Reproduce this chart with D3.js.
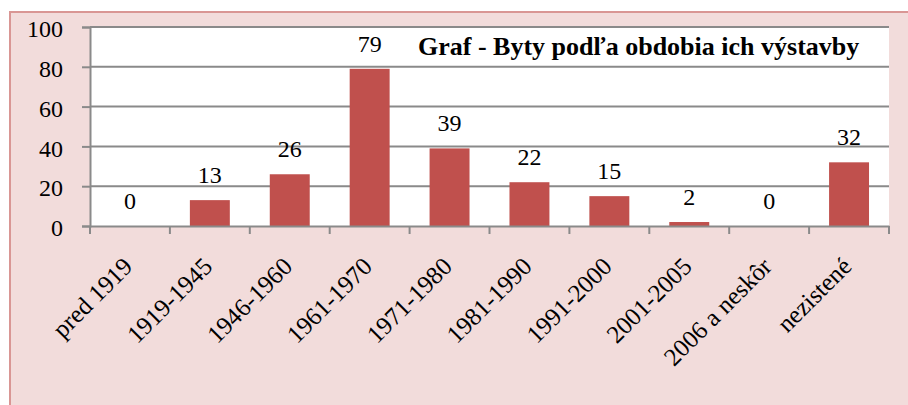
<!DOCTYPE html>
<html>
<head>
<meta charset="utf-8">
<script src="https://cdn.jsdelivr.net/npm/d3@7"></script>
<style>
  body { margin: 0; background: #fff; }
</style>
</head>
<body>
<svg width="908" height="405"></svg>
<script>
const categories = ["pred 1919", "1919-1945", "1946-1960", "1961-1970", "1971-1980",
  "1981-1990", "1991-2000", "2001-2005", "2006 a neskôr", "nezistené"]
const values = [0, 13, 26, 79, 39, 22, 15, 2, 0, 32]
const yTicks = [0, 20, 40, 60, 80, 100]
const title = "Graf - Byty podľa obdobia ich výstavby"

const font = "Liberation Serif"
const plot = { left: 90, top: 27, right: 889, bottom: 226 }

const svg = d3.select('svg')

// outer chart area
svg.append('rect')
  .attr('x', 10).attr('y', 12)
  .attr('width', 910).attr('height', 410)
  .attr('fill', '#f2dcdb')
  .attr('stroke', '#d99694')
  .attr('stroke-width', 2)

svg.append('rect')
  .attr('x', plot.left).attr('y', plot.top)
  .attr('width', plot.right - plot.left)
  .attr('height', plot.bottom - plot.top)
  .attr('fill', '#fff')

const xScale = d3.scaleBand()
  .domain(categories)
  .range([plot.left, plot.right])
  .padding(0)

const yScale = d3.scaleLinear()
  .domain([0, 100])
  .range([plot.bottom, plot.top])

// gridlines
svg.append('g')
  .selectAll('line')
  .data(yTicks.filter(d => d > 0))
  .enter()
  .append('line')
  .attr('x1', plot.left).attr('x2', plot.right)
  .attr('y1', d => yScale(d)).attr('y2', d => yScale(d))
  .attr('stroke', '#8a8a8a')
  .attr('stroke-width', 2)

// y axis
const yAxis = svg.append('g')
  .attr('transform', `translate(${plot.left}, 0)`)
  .call(d3.axisLeft(yScale).tickValues(yTicks).tickSize(8).tickPadding(19))
yAxis.attr('font-family', font).attr('font-size', 24)
yAxis.select('.domain').attr('stroke', '#8a8a8a').attr('stroke-width', 2)
yAxis.selectAll('.tick line').attr('stroke', '#8a8a8a').attr('stroke-width', 2)
yAxis.selectAll('.tick text')
  .attr('fill', '#000')
  .attr('dy', '0.4em')

// bars
svg.append('g')
  .selectAll('rect')
  .data(values)
  .enter()
  .append('rect')
  .attr('x', (d, i) => xScale(categories[i]) + xScale.bandwidth() * 0.25)
  .attr('y', d => yScale(d))
  .attr('width', xScale.bandwidth() * 0.5)
  .attr('height', d => yScale(0) - yScale(d))
  .attr('fill', '#c0504d')

// data labels
svg.append('g')
  .attr('font-family', font)
  .attr('font-size', 24)
  .selectAll('text')
  .data(values)
  .enter()
  .append('text')
  .attr('x', (d, i) => xScale(categories[i]) + xScale.bandwidth() / 2)
  .attr('y', d => yScale(d) - 17)
  .attr('text-anchor', 'middle')
  .text(d => d)

// x axis
const xAxis = svg.append('g')
  .attr('transform', `translate(0, ${plot.bottom})`)
  .call(d3.axisBottom(xScale).tickSize(0).tickFormat(''))
xAxis.select('.domain').attr('stroke', '#8a8a8a').attr('stroke-width', 2)

svg.append('g')
  .selectAll('line')
  .data(d3.range(categories.length + 1))
  .enter()
  .append('line')
  .attr('x1', i => i < categories.length ? xScale(categories[i]) : plot.right)
  .attr('x2', i => i < categories.length ? xScale(categories[i]) : plot.right)
  .attr('y1', plot.bottom).attr('y2', plot.bottom + 8)
  .attr('stroke', '#8a8a8a')
  .attr('stroke-width', 2)

svg.append('g')
  .attr('font-family', font)
  .attr('font-size', 25)
  .selectAll('text')
  .data(categories)
  .enter()
  .append('text')
  .attr('transform', d => `translate(${xScale(d) + xScale.bandwidth() / 2 + 4}, 268) rotate(-45)`)
  .attr('text-anchor', 'end')
  .text(d => d)

svg.append('text')
  .attr('x', 418)
  .attr('y', 55)
  .attr('font-family', font)
  .attr('font-size', 26)
  .attr('font-weight', 'bold')
  .text(title)
</script>
</body>
</html>
